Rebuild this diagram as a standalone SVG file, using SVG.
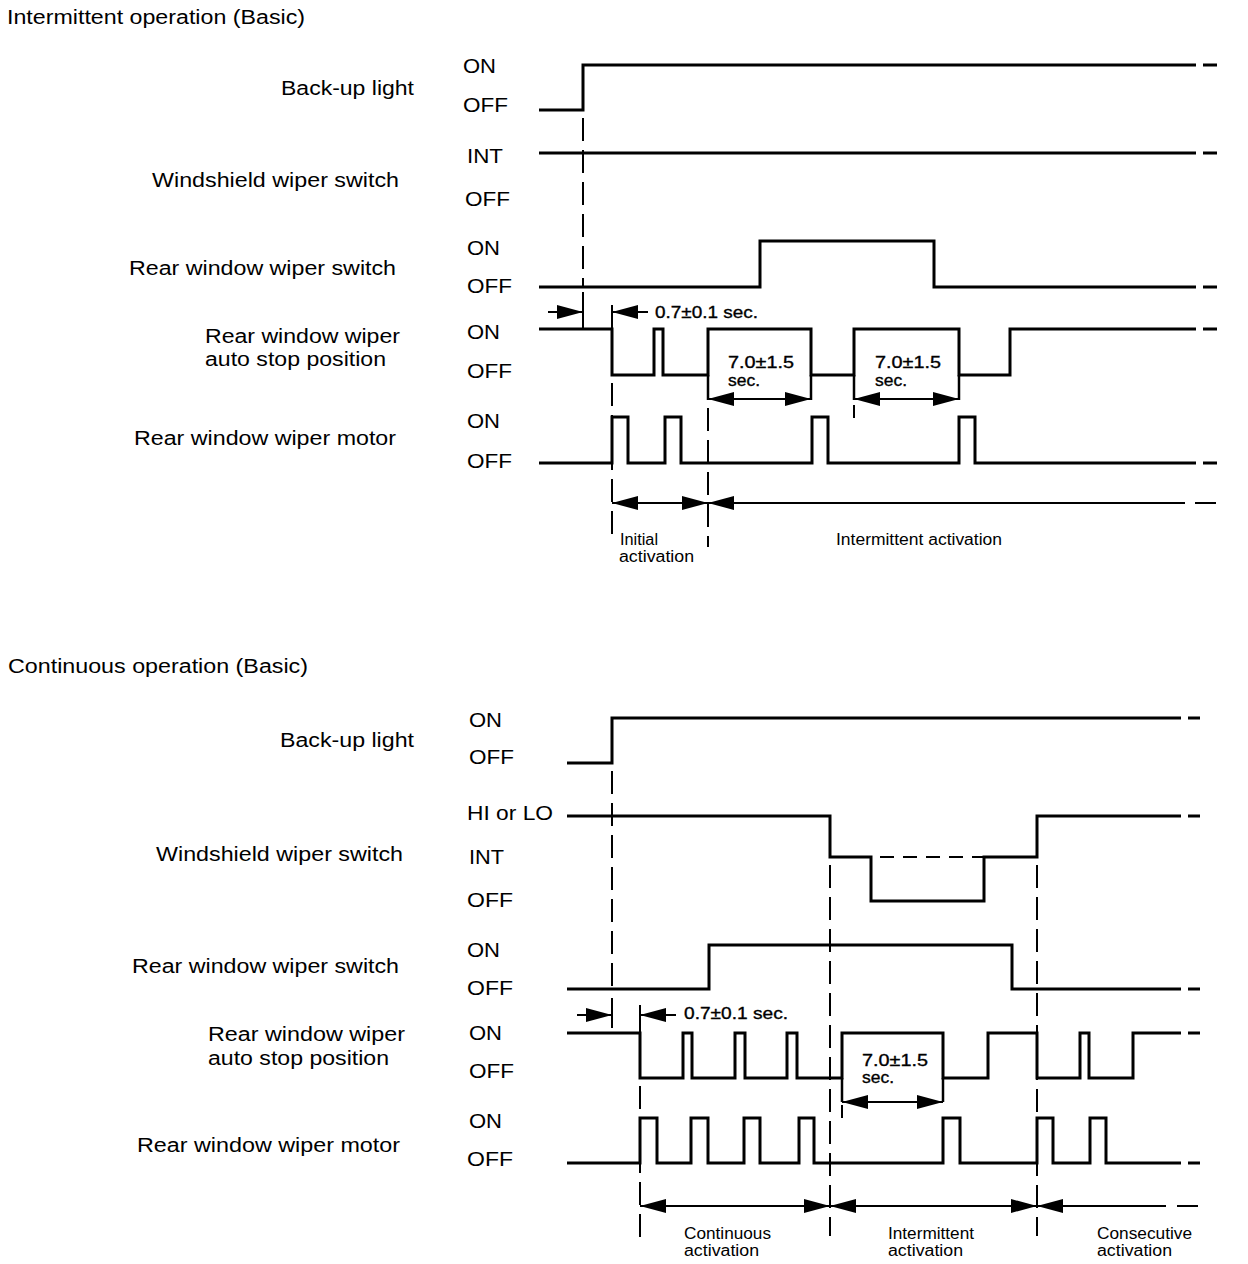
<svg xmlns="http://www.w3.org/2000/svg" width="1248" height="1264" viewBox="0 0 1248 1264">
<style>
text{font-family:"Liberation Sans",Arial,Helvetica,sans-serif;fill:#000}
.t{font-size:20px}
.lb{font-size:20px}
.st{font-size:21px}
.sm{font-size:17px;stroke:#000;stroke-width:0.35}
.an{font-size:16px}
.w{fill:none;stroke:#000;stroke-width:3;stroke-linejoin:miter;stroke-linecap:butt}
.ext{fill:none;stroke:#000;stroke-width:2.5}
.dv{fill:none;stroke:#000;stroke-width:2;stroke-dasharray:23 9}
.dh{fill:none;stroke:#000;stroke-width:2;stroke-dasharray:14 9}
.tk{fill:none;stroke:#000;stroke-width:2}
.ar{fill:none;stroke:#000;stroke-width:2}
</style>
<defs>
<marker id="ah" viewBox="0 0 26 14" refX="26" refY="7" markerWidth="26" markerHeight="14" markerUnits="userSpaceOnUse" orient="auto-start-reverse">
<path d="M0,0 L26,7 L0,14 z" fill="#000"/>
</marker>
</defs>
<rect width="1248" height="1264" fill="#fff"/>

<!-- ===== TOP: Intermittent operation ===== -->
<text id="title-top" class="t" x="7" y="24" textLength="298" lengthAdjust="spacingAndGlyphs">Intermittent operation (Basic)</text>

<g id="top-backup">
<text class="lb" x="281" y="95" textLength="133" lengthAdjust="spacingAndGlyphs">Back-up light</text>
<text class="st" x="463" y="73" textLength="33" lengthAdjust="spacingAndGlyphs">ON</text>
<text class="st" x="463" y="112" textLength="45" lengthAdjust="spacingAndGlyphs">OFF</text>
<path class="w" d="M539,110 H583 V65 H1196 M1203,65 H1217"/>
</g>

<g id="top-windshield">
<text class="lb" x="152" y="187" textLength="247" lengthAdjust="spacingAndGlyphs">Windshield wiper switch</text>
<text class="st" x="467" y="163" textLength="36" lengthAdjust="spacingAndGlyphs">INT</text>
<text class="st" x="465" y="206" textLength="45" lengthAdjust="spacingAndGlyphs">OFF</text>
<path class="w" d="M539,153 H1196 M1203,153 H1217"/>
</g>

<g id="top-rearswitch">
<text class="lb" x="129" y="275" textLength="267" lengthAdjust="spacingAndGlyphs">Rear window wiper switch</text>
<text class="st" x="467" y="255" textLength="33" lengthAdjust="spacingAndGlyphs">ON</text>
<text class="st" x="467" y="293" textLength="45" lengthAdjust="spacingAndGlyphs">OFF</text>
<path class="w" d="M539,287 H760 V241 H934 V287 H1196 M1203,287 H1217"/>
</g>

<g id="top-autostop">
<text class="lb" x="205" y="343" textLength="195" lengthAdjust="spacingAndGlyphs">Rear window wiper</text>
<text class="lb" x="205" y="366" textLength="181" lengthAdjust="spacingAndGlyphs">auto stop position</text>
<text class="st" x="467" y="339" textLength="33" lengthAdjust="spacingAndGlyphs">ON</text>
<text class="st" x="467" y="378" textLength="45" lengthAdjust="spacingAndGlyphs">OFF</text>
<path class="w" d="M539,329 H612 V375 H654 V329 H663 V375 H708 V329 H811 V375 H854 V329 H959 V375 H1010 V329 H1196 M1203,329 H1217"/>
<path class="ext" d="M708,375 V400 M811,375 V400 M854,375 V400 M959,375 V400"/>
</g>

<g id="top-motor">
<text class="lb" x="134" y="445" textLength="262" lengthAdjust="spacingAndGlyphs">Rear window wiper motor</text>
<text class="st" x="467" y="428" textLength="33" lengthAdjust="spacingAndGlyphs">ON</text>
<text class="st" x="467" y="468" textLength="45" lengthAdjust="spacingAndGlyphs">OFF</text>
<path class="w" d="M539,463 H612 V417 H628 V463 H665 V417 H681 V463 H812 V417 H828 V463 H959 V417 H975 V463 H1196 M1203,463 H1217"/>
</g>

<g id="top-annotations">
<text class="sm" x="655" y="318" textLength="103" lengthAdjust="spacingAndGlyphs">0.7±0.1 sec.</text>
<text class="sm" x="728" y="368" textLength="66" lengthAdjust="spacingAndGlyphs">7.0±1.5</text>
<text class="sm" x="728" y="386" textLength="32" lengthAdjust="spacingAndGlyphs">sec.</text>
<text class="sm" x="875" y="368" textLength="66" lengthAdjust="spacingAndGlyphs">7.0±1.5</text>
<text class="sm" x="875" y="386" textLength="32" lengthAdjust="spacingAndGlyphs">sec.</text>
<text class="an" x="620" y="545" textLength="38" lengthAdjust="spacingAndGlyphs">Initial</text>
<text class="an" x="619" y="562" textLength="75" lengthAdjust="spacingAndGlyphs">activation</text>
<text class="an" x="836" y="545" textLength="166" lengthAdjust="spacingAndGlyphs">Intermittent activation</text>
</g>

<!-- ===== BOTTOM: Continuous operation ===== -->
<text id="title-bottom" class="t" x="8" y="673" textLength="300" lengthAdjust="spacingAndGlyphs">Continuous operation (Basic)</text>

<g id="bot-backup">
<text class="lb" x="280" y="747" textLength="134" lengthAdjust="spacingAndGlyphs">Back-up light</text>
<text class="st" x="469" y="727" textLength="33" lengthAdjust="spacingAndGlyphs">ON</text>
<text class="st" x="469" y="764" textLength="45" lengthAdjust="spacingAndGlyphs">OFF</text>
<path class="w" d="M567,763 H612 V718 H1181 M1188,718 H1200"/>
</g>

<g id="bot-windshield">
<text class="lb" x="156" y="861" textLength="247" lengthAdjust="spacingAndGlyphs">Windshield wiper switch</text>
<text class="st" x="467" y="820" textLength="86" lengthAdjust="spacingAndGlyphs">HI or LO</text>
<text class="st" x="469" y="864" textLength="35" lengthAdjust="spacingAndGlyphs">INT</text>
<text class="st" x="467" y="907" textLength="46" lengthAdjust="spacingAndGlyphs">OFF</text>
<path class="w" d="M567,816 H830 V857 H871 V901 H984 V857 H1037 V816 H1181 M1188,816 H1200"/>
<path class="dh" d="M880,857 H984"/>
</g>

<g id="bot-rearswitch">
<text class="lb" x="132" y="973" textLength="267" lengthAdjust="spacingAndGlyphs">Rear window wiper switch</text>
<text class="st" x="467" y="957" textLength="33" lengthAdjust="spacingAndGlyphs">ON</text>
<text class="st" x="467" y="995" textLength="46" lengthAdjust="spacingAndGlyphs">OFF</text>
<path class="w" d="M567,989 H709 V945 H1012 V989 H1181 M1188,989 H1200"/>
</g>

<g id="bot-autostop">
<text class="lb" x="208" y="1041" textLength="197" lengthAdjust="spacingAndGlyphs">Rear window wiper</text>
<text class="lb" x="208" y="1065" textLength="181" lengthAdjust="spacingAndGlyphs">auto stop position</text>
<text class="st" x="469" y="1040" textLength="33" lengthAdjust="spacingAndGlyphs">ON</text>
<text class="st" x="469" y="1078" textLength="45" lengthAdjust="spacingAndGlyphs">OFF</text>
<path class="w" d="M567,1033 H640 V1078 H683 V1033 H692 V1078 H735 V1033 H745 V1078 H787 V1033 H797 V1078 H842 V1033 H943 V1078 H988 V1033 H1037 V1078 H1080 V1033 H1089 V1078 H1133 V1033 H1181 M1188,1033 H1200"/>
<path class="ext" d="M842,1078 V1102 M943,1078 V1102"/>
</g>

<g id="bot-motor">
<text class="lb" x="137" y="1152" textLength="263" lengthAdjust="spacingAndGlyphs">Rear window wiper motor</text>
<text class="st" x="469" y="1128" textLength="33" lengthAdjust="spacingAndGlyphs">ON</text>
<text class="st" x="467" y="1166" textLength="46" lengthAdjust="spacingAndGlyphs">OFF</text>
<path class="w" d="M567,1163 H640 V1118 H657 V1163 H691 V1118 H708 V1163 H744 V1118 H760 V1163 H799 V1118 H814 V1163 H943 V1118 H960 V1163 H1037 V1118 H1053 V1163 H1090 V1118 H1106 V1163 H1181 M1188,1163 H1200"/>
</g>

<g id="bot-annotations">
<text class="sm" x="684" y="1019" textLength="104" lengthAdjust="spacingAndGlyphs">0.7±0.1 sec.</text>
<text class="sm" x="862" y="1066" textLength="66" lengthAdjust="spacingAndGlyphs">7.0±1.5</text>
<text class="sm" x="862" y="1083" textLength="32" lengthAdjust="spacingAndGlyphs">sec.</text>
<text class="an" x="684" y="1239" textLength="87" lengthAdjust="spacingAndGlyphs">Continuous</text>
<text class="an" x="684" y="1256" textLength="75" lengthAdjust="spacingAndGlyphs">activation</text>
<text class="an" x="888" y="1239" textLength="86" lengthAdjust="spacingAndGlyphs">Intermittent</text>
<text class="an" x="888" y="1256" textLength="75" lengthAdjust="spacingAndGlyphs">activation</text>
<text class="an" x="1097" y="1239" textLength="95" lengthAdjust="spacingAndGlyphs">Consecutive</text>
<text class="an" x="1097" y="1256" textLength="75" lengthAdjust="spacingAndGlyphs">activation</text>
</g>

<!-- ===== Connectors: timing lines and dimension arrows ===== -->
<g id="connectors">
<path class="dv" d="M583,118 V288"/>
<path class="tk" d="M583,292 V328"/>
<path class="tk" d="M612,305 V329"/>
<path class="dv" d="M612,383 V540"/>
<path class="dv" d="M708,408 V547"/>
<path class="tk" d="M854,405 V418"/>
<line class="ar" x1="548" y1="312" x2="583" y2="312" marker-end="url(#ah)"/>
<line class="ar" x1="612" y1="312" x2="648" y2="312" marker-start="url(#ah)"/>
<line class="ar" x1="708" y1="399" x2="811" y2="399" marker-start="url(#ah)" marker-end="url(#ah)"/>
<line class="ar" x1="854" y1="399" x2="959" y2="399" marker-start="url(#ah)" marker-end="url(#ah)"/>
<line class="ar" x1="612" y1="503" x2="708" y2="503" marker-start="url(#ah)" marker-end="url(#ah)"/>
<line class="ar" x1="708" y1="503" x2="1185" y2="503" marker-start="url(#ah)"/>
<line class="ar" x1="1195" y1="503" x2="1216" y2="503"/>

<path class="dv" d="M612,771 V994"/>
<path class="tk" d="M612,998 V1028"/>
<path class="tk" d="M640,1005 V1033"/>
<path class="dv" d="M640,1086 V1240"/>
<path class="dv" d="M830,865 V1236"/>
<path class="dv" d="M1037,865 V1236"/>
<path class="tk" d="M842,1105 V1118"/>
<line class="ar" x1="577" y1="1015" x2="612" y2="1015" marker-end="url(#ah)"/>
<line class="ar" x1="640" y1="1015" x2="676" y2="1015" marker-start="url(#ah)"/>
<line class="ar" x1="842" y1="1102" x2="943" y2="1102" marker-start="url(#ah)" marker-end="url(#ah)"/>
<line class="ar" x1="640" y1="1206" x2="830" y2="1206" marker-start="url(#ah)" marker-end="url(#ah)"/>
<line class="ar" x1="830" y1="1206" x2="1037" y2="1206" marker-start="url(#ah)" marker-end="url(#ah)"/>
<line class="ar" x1="1037" y1="1206" x2="1166" y2="1206" marker-start="url(#ah)"/>
<line class="ar" x1="1177" y1="1206" x2="1198" y2="1206"/>
</g>
</svg>
